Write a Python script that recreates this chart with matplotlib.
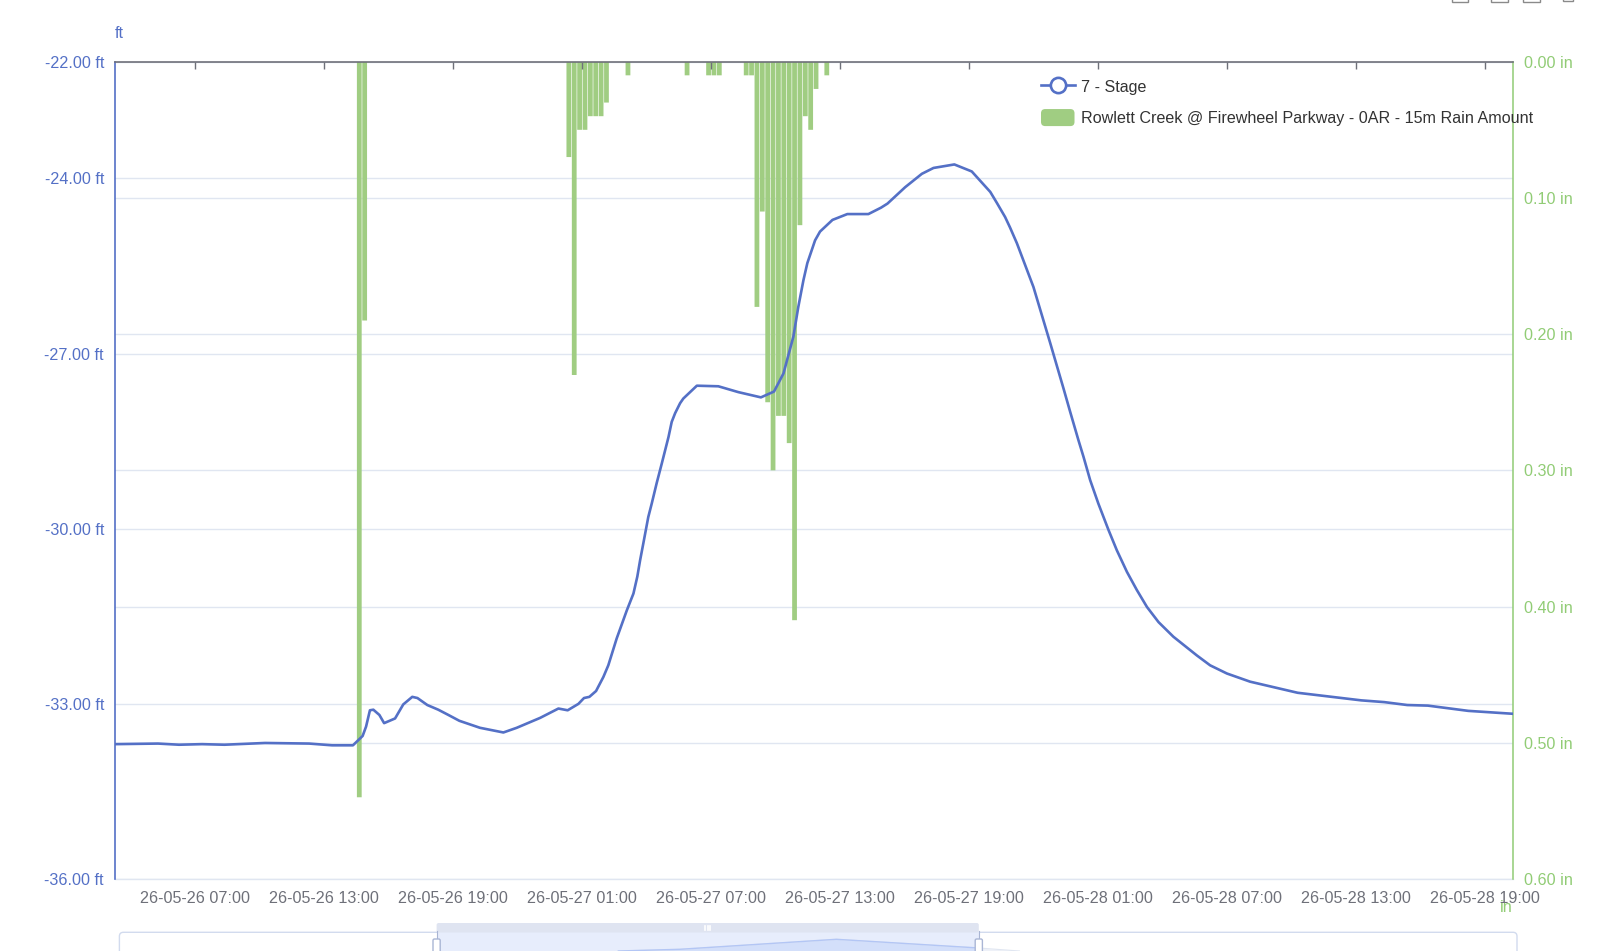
import matplotlib
matplotlib.use("Agg")
import matplotlib.pyplot as plt
from matplotlib.lines import Line2D
from matplotlib.patches import Patch, FancyBboxPatch, Rectangle
from matplotlib.legend_handler import HandlerPatch
from matplotlib.transforms import Affine2D

plt.rcParams['font.family'] = ['Liberation Sans', 'DejaVu Sans']

# hours since 26-05-26 07:00
stage_hours = [-3.74, -1.74, -0.76, 0.31, 1.35, 3.24, 5.29, 6.36, 7.33, 7.78, 7.94, 8.12, 8.28, 8.56, 8.78,
               9.29, 9.67, 10.09, 10.33, 10.79, 11.30, 11.77, 12.28, 13.24, 14.33, 14.95, 16.04, 16.89,
               17.32, 17.82, 18.08, 18.33, 18.64, 18.98, 19.21, 19.60, 20.07, 20.38, 20.56, 20.69, 20.84, 21.07,
               21.23, 21.46, 21.70, 22.01, 22.16, 22.32, 22.55, 22.70, 23.33, 24.33, 25.26, 26.31, 26.92, 27.36,
               27.82, 28.05, 28.29, 28.47, 28.83, 29.06, 29.64, 30.33, 31.31, 31.90, 32.20, 33.02, 33.80, 34.34,
               35.31, 36.12, 36.98, 37.29, 37.67, 37.90, 38.22, 38.60, 38.99, 39.38, 39.77, 40.39, 40.70, 41.08,
               41.32, 41.63, 42.01, 42.48, 42.87, 43.34, 43.80, 44.27, 44.81, 45.50, 46.59, 47.21, 47.99, 49.07,
               50.93, 51.28, 54.24, 55.31, 56.38, 57.34, 59.22, 61.30]
stage_ft = [-33.69, -33.68, -33.70, -33.69, -33.70, -33.67, -33.68, -33.71, -33.71, -33.55, -33.39, -33.11,
            -33.10, -33.19, -33.33, -33.25, -33.01, -32.88, -32.90, -33.02, -33.10, -33.19, -33.29, -33.41,
            -33.49, -33.41, -33.24, -33.08, -33.11, -33.00, -32.90, -32.88, -32.78, -32.54, -32.34, -31.88,
            -31.40, -31.11, -30.82, -30.54, -30.25, -29.80, -29.57, -29.22, -28.88, -28.43, -28.17, -28.02,
            -27.85, -27.77, -27.55, -27.56, -27.66, -27.75, -27.65, -27.34, -26.71, -26.20, -25.74, -25.45,
            -25.06, -24.91, -24.71, -24.61, -24.61, -24.50, -24.43, -24.15, -23.92, -23.82, -23.76, -23.88,
            -24.23, -24.42, -24.66, -24.84, -25.11, -25.48, -25.86, -26.34, -26.82, -27.60, -28.00, -28.48,
            -28.77, -29.17, -29.57, -30.02, -30.37, -30.74, -31.05, -31.34, -31.60, -31.85, -32.17, -32.34,
            -32.48, -32.62, -32.78, -32.81, -32.94, -32.97, -33.02, -33.03, -33.12, -33.17]

rain_hours = [7.625, 7.875, 17.375, 17.625, 17.875, 18.125, 18.375, 18.625, 18.875, 19.125, 20.125, 22.875,
              23.875, 24.125, 24.375, 25.625, 25.875, 26.125, 26.375, 26.625, 26.875, 27.125, 27.375, 27.625,
              27.875, 28.125, 28.375, 28.625, 28.875, 29.375]
rain_in = [0.54, 0.19, 0.07, 0.23, 0.05, 0.05, 0.04, 0.04, 0.04, 0.03, 0.01, 0.01,
           0.01, 0.01, 0.01, 0.01, 0.01, 0.18, 0.11, 0.25, 0.30, 0.26, 0.26, 0.28,
           0.41, 0.12, 0.04, 0.05, 0.02, 0.01]

x_ticks = [0, 6, 12, 18, 24, 30, 36, 42, 48, 54, 60]
x_labels = ['26-05-26 07:00', '26-05-26 13:00', '26-05-26 19:00', '26-05-27 01:00',
            '26-05-27 07:00', '26-05-27 13:00', '26-05-27 19:00', '26-05-28 01:00',
            '26-05-28 07:00', '26-05-28 13:00', '26-05-28 19:00']
ft_ticks = [-36, -33, -30, -27, -24, -22]
in_ticks = [0.0, 0.1, 0.2, 0.3, 0.4, 0.5, 0.6]

# overview in the slider: percent of full range, height of the mini area
overview_pct = [35.7, 40.1, 51.3, 61.5, 64.4]
overview_val = [0.0, 1.7, 11.7, 3.0, 0.0]

BLUE = '#5470c6'
GREEN = '#91cc75'
BAR = '#a0cd82'
GRID = '#E0E6F1'
GRAY = '#6E7079'
FS = 11.6

W, H = 1600, 951
fig = plt.figure(figsize=(W / 100, H / 100), dpi=100, facecolor='white')
L, R, T, B = 115, 1513, 61.7, 879
rect = [L / W, 1 - B / H, (R - L) / W, (B - T) / H]

ax = fig.add_axes(rect, zorder=1)
ax.set_xlim(stage_hours[0], stage_hours[-1])
ax.set_ylim(-36, -22)
ax.set_yticks(ft_ticks)
ax.set_yticklabels([f'{v:.2f} ft' for v in ft_ticks])
ax.set_xticks(x_ticks)
ax.set_xticklabels(x_labels)
ax.tick_params(axis='y', length=0, pad=8, labelsize=FS, labelcolor=BLUE)
ax.tick_params(axis='x', top=False, bottom=False, labeltop=False, labelbottom=True,
               length=0, labelsize=FS, labelcolor=GRAY, pad=8.8)
ax.grid(axis='y', color=GRID, lw=1.0)
ax.set_axisbelow(True)
for s in ('left', 'right', 'top'):
    ax.spines[s].set_visible(False)
ax.spines['bottom'].set_color(GRID)
ax.spines['bottom'].set_linewidth(1.0)

ax2 = ax.twinx()
ax2.set_zorder(2)
ax2.patch.set_visible(False)
ax2.set_ylim(0.6, 0)
ax2.set_yticks(in_ticks)
ax2.set_yticklabels([f'{v:.2f} in' for v in in_ticks])
ax2.tick_params(axis='y', length=0, pad=8, labelsize=FS, labelcolor=GREEN)
ax2.grid(axis='y', color=GRID, lw=1.0)
ax2.set_axisbelow(True)
for s in ('left', 'top', 'bottom', 'right'):
    ax2.spines[s].set_visible(False)
for g, v in zip(ax2.get_ygridlines(), in_ticks):
    if v in (0.0, 0.6):
        g.set_visible(False)
bars = ax2.bar(rain_hours, rain_in, width=0.222, color=BAR, linewidth=0, zorder=3,
               label='Rowlett Creek @ Firewheel Parkway - 0AR - 15m Rain Amount')
for b in bars:
    b.set_snap(False)

ax3 = ax.twinx()
ax3.set_zorder(3)
ax3.patch.set_visible(False)
ax3.set_ylim(-36, -22)
ax3.set_yticks([])
ax3.xaxis.set_visible(True)
ax3.xaxis.set_ticks_position('top')
ax3.set_xticks(x_ticks)
ax3.tick_params(axis='x', top=True, bottom=False, labeltop=False, labelbottom=False, direction='in',
                length=5, width=1.0, color=GRAY)
for s, c, w in (('left', BLUE, 1.2), ('right', GREEN, 1.1), ('top', GRAY, 1.2)):
    ax3.spines[s].set_color(c)
    ax3.spines[s].set_linewidth(w)
ax3.spines['bottom'].set_visible(False)
ax3.plot(stage_hours, stage_ft, color=BLUE, lw=1.9, solid_joinstyle='round', zorder=4)
ax3.set_xlim(stage_hours[0], stage_hours[-1])

px = Affine2D().scale(1, -1).translate(0, H)
fig.text(119 / W, 1 - 33.7 / H, 'ft', color=BLUE, fontsize=FS, ha='center', va='center')
fig.text(1506.6 / W, 1 - 908 / H, 'in', color=GREEN, fontsize=FS, ha='center', va='center')


def rounded(xy, width, height, pad, **kw):
    return FancyBboxPatch(xy, width, height, boxstyle=f'round,pad=0,rounding_size={pad}', **kw)


def make_handle(legend, orig_handle, xdescent, ydescent, width, height, fontsize):
    return rounded((-xdescent, -ydescent), width, height, 3.0)


handles = [
    Line2D([], [], color=BLUE, lw=1.9, marker='o', ms=11, mfc='white', mec=BLUE, mew=1.9),
    Patch(facecolor=BAR, edgecolor='none'),
]
labels = ['7 - Stage', 'Rowlett Creek @ Firewheel Parkway - 0AR - 15m Rain Amount']
leg = ax3.legend(handles, labels, loc='upper left', bbox_to_anchor=(1041 / W, 1 - 78 / H),
                 bbox_transform=fig.transFigure, frameon=False, fontsize=FS, borderpad=0, borderaxespad=0,
                 handlelength=2.08, handleheight=1.25, handletextpad=0.42, labelspacing=0.87,
                 numpoints=1, labelcolor='#333333',
                 handler_map={Patch: HandlerPatch(patch_func=make_handle)})

# toolbox icons clipped at the top edge
for x0, x1 in ((1452, 1468), (1491, 1508), (1523, 1540)):
    fig.add_artist(Rectangle((x0, -6), x1 - x0, 8, transform=px, fc='none', ec='#8a8a8a', lw=1.0))
fig.add_artist(Rectangle((1563, -6), 10, 7, transform=px, fc='none', ec='#8a8a8a', lw=1.0))

# data zoom slider
S_L, S_R, S_TOP = 119.4, 1517, 932.3
SEL_L, SEL_R = 436.6, 978.8
fig.add_artist(rounded((S_L, S_TOP), S_R - S_L, 40, 4, transform=px, fc='white', ec='#d2dbee', lw=1.0, zorder=-2))
fig.add_artist(Rectangle((SEL_L, S_TOP), SEL_R - SEL_L, 30, transform=px, fc='#e7edfc', ec='none', zorder=-1))
fig.add_artist(rounded((SEL_L, 923), SEL_R - SEL_L, 9.5, 2, transform=px, fc='#dfe4f1', ec='none', zorder=-1))

sl = fig.add_axes([S_L / W, 0, (S_R - S_L) / W, 28 / H], zorder=0)
sl.axis('off')
sl.set_xlim(0, 100)
sl.set_ylim(0, 28)
sel_a, sel_b = (SEL_L - S_L) / (S_R - S_L) * 100, (SEL_R - S_L) / (S_R - S_L) * 100
sl.fill_between(overview_pct, overview_val, color='#eef1f8', lw=0)
sl.plot(overview_pct, overview_val, color='#e0e6f1', lw=0.8)
clip = Rectangle((sel_a, 0), sel_b - sel_a, 28, transform=sl.transData)
a = sl.fill_between(overview_pct, overview_val, color='#d3dffa', lw=0)
a.set_clip_path(clip)
l, = sl.plot(overview_pct, overview_val, color='#b3c6f5', lw=1.0)
l.set_clip_path(clip)

for xs in (SEL_L, SEL_R):
    fig.add_artist(Line2D([xs, xs], [931, 940], transform=px, color='#a9b5d3', lw=0.8, zorder=4))
    fig.add_artist(rounded((xs - 3.6, 939), 7.2, 20, 1.5, transform=px, fc='white', ec='#aab6d5', lw=1.0, zorder=5))
for dx in (-2.5, 0, 2.5):
    fig.add_artist(Line2D([(SEL_L + SEL_R) / 2 + dx] * 2, [925.5, 929.5], transform=px, color='white', lw=1.2, zorder=5))

fig.savefig('out.png', dpi=100)
